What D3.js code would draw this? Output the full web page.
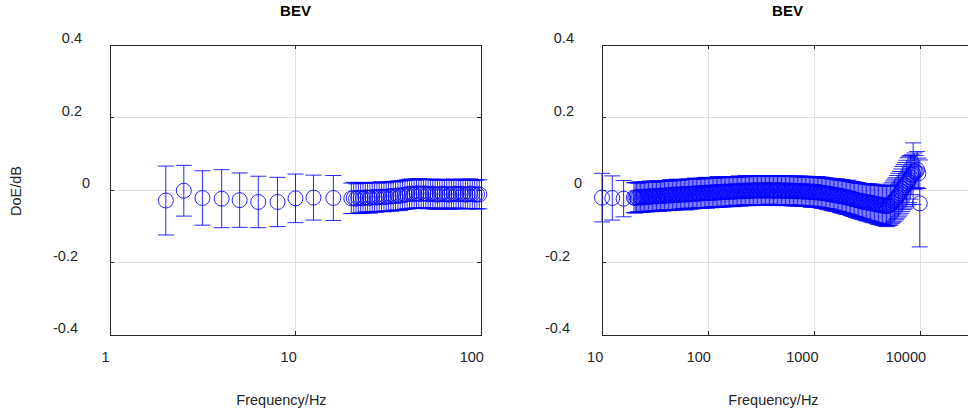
<!DOCTYPE html>
<html>
<head>
<meta charset="utf-8">
<script src="https://cdn.jsdelivr.net/npm/d3@7"></script>
<style>
  body { margin: 0; background: #fff; }
  text { font-family: "Liberation Sans", Arial, Helvetica, sans-serif; }
</style>
</head>
<body>
<svg id="chart" width="968" height="416"></svg>
<script>
// ---- data: frequency (Hz), mean DoE (dB), half-width of error bar (dB) ----
const leftFreqs = [
  2, 2.5, 3.15, 4, 5, 6.3, 8, 10, 12.5, 16,
  20, 20.59, 21.19, 21.81, 22.45, 23.11, 23.78, 24.48, 25.2, 25.94, 26.7, 27.48,
  28.28, 29.11, 29.97, 30.84, 31.75, 32.68, 33.64, 34.62, 35.64, 36.68, 37.76, 38.86,
  40, 41.17, 42.38, 43.62, 44.9, 46.21, 47.57, 48.96, 50.4, 51.87, 53.39, 54.96,
  56.57, 58.23, 59.93, 61.69, 63.5, 65.36, 67.27, 69.24, 71.27, 73.36, 75.51, 77.72,
  80, 82.34, 84.76, 87.24, 89.8, 92.43, 95.14, 97.92
];
const leftDoE = [
  -0.029, -0.002, -0.022, -0.024, -0.028, -0.033, -0.033, -0.023, -0.021, -0.022,
  -0.023, -0.022, -0.024, -0.021, -0.022, -0.023, -0.020, -0.021, -0.022, -0.019, -0.020, -0.021,
  -0.019, -0.018, -0.020, -0.019, -0.017, -0.018, -0.016, -0.017, -0.015, -0.016, -0.014, -0.013,
  -0.012, -0.011, -0.010, -0.012, -0.009, -0.010, -0.011, -0.009, -0.010, -0.012, -0.011, -0.010,
  -0.012, -0.013, -0.011, -0.010, -0.012, -0.011, -0.013, -0.012, -0.010, -0.011, -0.012, -0.010,
  -0.011, -0.013, -0.012, -0.010, -0.011, -0.013, -0.012, -0.012
];
const leftErr = [
  0.095, 0.070, 0.075, 0.080, 0.075, 0.071, 0.068, 0.067, 0.062, 0.062,
  0.042, 0.043, 0.041, 0.042, 0.042, 0.041, 0.040, 0.041, 0.042, 0.040, 0.041, 0.040,
  0.040, 0.041, 0.040, 0.039, 0.040, 0.041, 0.040, 0.039, 0.040, 0.041, 0.040, 0.040,
  0.040, 0.041, 0.040, 0.039, 0.040, 0.041, 0.040, 0.039, 0.040, 0.040, 0.039, 0.040,
  0.041, 0.040, 0.039, 0.040, 0.040, 0.039, 0.040, 0.041, 0.040, 0.039, 0.040, 0.040,
  0.040, 0.039, 0.040, 0.041, 0.040, 0.039, 0.040, 0.040
];

const rightFreqs = [
  10, 12.5, 16,
  20, 20.59, 21.19, 21.81, 22.45, 23.11, 23.78, 24.48, 25.2, 25.94, 26.7, 27.48,
  28.28, 29.11, 29.97, 30.84, 31.75, 32.68, 33.64, 34.62, 35.64, 36.68, 37.76, 38.86,
  40, 41.17, 42.38, 43.62, 44.9, 46.21, 47.57, 48.96, 50.4, 51.87, 53.39, 54.96,
  56.57, 58.23, 59.93, 61.69, 63.5, 65.36, 67.27, 69.24, 71.27, 73.36, 75.51, 77.72,
  80, 82.34, 84.76, 87.24, 89.8, 92.43, 95.14, 97.92, 100.79, 103.75, 106.79, 109.92,
  113.14, 116.45, 119.86, 123.38, 126.99, 130.71, 134.54, 138.49, 142.54, 146.72, 151.02, 155.44,
  160, 164.69, 169.51, 174.48, 179.59, 184.86, 190.27, 195.85, 201.59, 207.49, 213.57, 219.83,
  226.27, 232.9, 239.73, 246.75, 253.98, 261.43, 269.09, 276.97, 285.09, 293.44, 302.04, 310.89,
  320, 329.38, 339.03, 348.96, 359.19, 369.71, 380.55, 391.7, 403.17, 414.99, 427.15, 439.66,
  452.55, 465.81, 479.46, 493.51, 507.97, 522.85, 538.17, 553.94, 570.18, 586.88, 604.08, 621.78,
  640, 658.75, 678.05, 697.93, 718.37, 739.42, 761.09, 783.4, 806.35, 829.98, 854.3, 879.33,
  905.09, 931.62, 958.92, 987.01, 1015.9, 1045.7, 1076.3, 1107.9, 1140.4, 1173.8, 1208.2, 1243.6,
  1280, 1317.5, 1356.1, 1395.9, 1436.7, 1478.8, 1522.2, 1566.8, 1612.7, 1660, 1708.6, 1758.7,
  1810.2, 1863.2, 1917.8, 1974, 2031.9, 2091.4, 2152.7, 2215.8, 2280.7, 2347.5, 2416.3, 2487.1,
  2560, 2635, 2712.2, 2791.7, 2873.5, 2957.7, 3044.4, 3133.6, 3225.4, 3319.9, 3417.2, 3517.3,
  3620.4, 3726.5, 3835.7, 3948, 4063.7, 4182.8, 4305.4, 4431.5, 4561.4, 4695, 4832.6, 4974.2,
  5120, 5270, 5424.4, 5583.4, 5747, 5915.4, 6088.7, 6267.1, 6450.8, 6639.8, 6834.4, 7034.6,
  7240.8, 7453, 7671.3, 7896.1, 8127.4, 8365.6, 8610.7, 8863, 9122.7, 9390, 9665.2, 9948.4
];
const rightDoE = [
  -0.021, -0.022, -0.024,
  -0.021, -0.022, -0.020, -0.021, -0.019, -0.020, -0.021, -0.019, -0.018, -0.020, -0.019, -0.018,
  -0.017, -0.019, -0.018, -0.017, -0.016, -0.018, -0.017, -0.016, -0.015, -0.016, -0.017, -0.015,
  -0.015, -0.014, -0.016, -0.014, -0.013, -0.015, -0.014, -0.013, -0.012, -0.014, -0.013, -0.012,
  -0.013, -0.011, -0.012, -0.013, -0.011, -0.010, -0.012, -0.011, -0.010, -0.011, -0.009, -0.010,
  -0.010, -0.009, -0.010, -0.008, -0.009, -0.008, -0.007, -0.009, -0.008, -0.007, -0.008, -0.006,
  -0.007, -0.008, -0.006, -0.005, -0.007, -0.006, -0.005, -0.006, -0.004, -0.005, -0.006, -0.004,
  -0.005, -0.004, -0.003, -0.005, -0.004, -0.003, -0.004, -0.002, -0.003, -0.004, -0.002, -0.003,
  -0.001, -0.003, -0.002, -0.001, -0.003, -0.002, -0.001, -0.002, 0.000, -0.002, -0.001, -0.002,
  -0.001, -0.002, 0.000, -0.001, -0.002, -0.001, 0.000, -0.002, -0.001, -0.003, -0.001, -0.002,
  0.000, -0.001, -0.002, -0.001, -0.003, -0.002, -0.001, -0.002, -0.003, -0.001, -0.002, -0.003,
  -0.002, -0.003, -0.002, -0.004, -0.003, -0.002, -0.004, -0.003, -0.005, -0.004, -0.003, -0.005,
  -0.004, -0.006, -0.005, -0.004, -0.006, -0.007, -0.005, -0.006, -0.008, -0.007, -0.008, -0.009,
  -0.009, -0.010, -0.011, -0.010, -0.012, -0.013, -0.012, -0.014, -0.015, -0.014, -0.016, -0.017,
  -0.018, -0.017, -0.019, -0.020, -0.021, -0.020, -0.022, -0.023, -0.024, -0.025, -0.026, -0.027,
  -0.028, -0.029, -0.030, -0.031, -0.032, -0.031, -0.033, -0.034, -0.035, -0.034, -0.036, -0.037,
  -0.038, -0.037, -0.039, -0.040, -0.041, -0.040, -0.042, -0.043, -0.042, -0.044, -0.045, -0.044,
  -0.043, -0.040, -0.036, -0.032, -0.028, -0.024, -0.019, -0.014, -0.009, -0.003, 0.003, 0.008,
  0.013, 0.018, 0.024, 0.029, 0.035, 0.042, 0.045, 0.052, 0.050, 0.056, 0.046, -0.037
];
const rightErr = [
  0.067, 0.061, 0.050,
  0.041, 0.042, 0.041, 0.040, 0.041, 0.042, 0.041, 0.040, 0.041, 0.041, 0.040, 0.041,
  0.042, 0.041, 0.040, 0.041, 0.041, 0.040, 0.041, 0.042, 0.041, 0.040, 0.041, 0.041,
  0.041, 0.040, 0.041, 0.042, 0.041, 0.040, 0.041, 0.041, 0.042, 0.041, 0.040, 0.041,
  0.041, 0.040, 0.041, 0.042, 0.041, 0.040, 0.041, 0.041, 0.040, 0.041, 0.042, 0.041,
  0.041, 0.040, 0.041, 0.041, 0.040, 0.041, 0.042, 0.041, 0.040, 0.041, 0.041, 0.040,
  0.041, 0.040, 0.041, 0.042, 0.041, 0.040, 0.041, 0.041, 0.040, 0.041, 0.040, 0.041,
  0.040, 0.041, 0.040, 0.041, 0.040, 0.039, 0.040, 0.041, 0.040, 0.040, 0.039, 0.040,
  0.041, 0.040, 0.039, 0.040, 0.040, 0.041, 0.040, 0.039, 0.040, 0.040, 0.041, 0.040,
  0.040, 0.039, 0.040, 0.041, 0.040, 0.040, 0.039, 0.040, 0.041, 0.040, 0.039, 0.040,
  0.040, 0.041, 0.040, 0.039, 0.040, 0.040, 0.041, 0.040, 0.040, 0.039, 0.040, 0.041,
  0.040, 0.041, 0.040, 0.040, 0.041, 0.040, 0.041, 0.041, 0.040, 0.041, 0.041, 0.040,
  0.041, 0.042, 0.041, 0.041, 0.042, 0.041, 0.042, 0.042, 0.041, 0.042, 0.043, 0.042,
  0.042, 0.043, 0.043, 0.042, 0.043, 0.044, 0.043, 0.044, 0.044, 0.045, 0.044, 0.045,
  0.045, 0.046, 0.045, 0.046, 0.046, 0.047, 0.046, 0.047, 0.047, 0.048, 0.047, 0.048,
  0.048, 0.049, 0.048, 0.049, 0.050, 0.049, 0.050, 0.051, 0.050, 0.051, 0.052, 0.051,
  0.052, 0.053, 0.052, 0.053, 0.054, 0.053, 0.054, 0.055, 0.054, 0.055, 0.056, 0.055,
  0.055, 0.056, 0.056, 0.057, 0.058, 0.058, 0.059, 0.060, 0.060, 0.061, 0.062, 0.062,
  0.063, 0.064, 0.065, 0.064, 0.060, 0.055, 0.085, 0.050, 0.045, 0.050, 0.042, 0.120
];

// axis ticks and their labels
const yTicks = [-0.4, -0.2, 0, 0.2, 0.4];
const yTickLabels = ["-0.4", "-0.2", "0", "0.2", "0.4"];
const leftXTicks = [1, 10, 100];
const leftXTickLabels = ["1", "10", "100"];
const rightXTicks = [10, 100, 1000, 10000];
const rightXTickLabels = ["10", "100", "1000", "10000"];

const titleText = "BEV";
const xLabelText = "Frequency/Hz";
const yLabelText = "DoE/dB";

// ---- drawing ----
const svg = d3.select("#chart");
svg.append("rect").attr("width", 968).attr("height", 416).attr("fill", "#fff");

const axisColor = "#262626";
const gridColor = "#dfdfdf";
const markColor = "#0000ff";
const fontSize = 14.5;
const plotTop = 45, plotBottom = 335;
const y = d3.scaleLinear().domain([-0.4, 0.4]).range([plotBottom, plotTop]);

function drawPanel(p) {
  const x = d3.scaleLog().domain(p.domain).range([p.left, p.right]);
  const g = svg.append("g");

  // grid
  g.selectAll(".vgrid").data(p.xTicks.filter(t => x(t) > p.left + 1 && x(t) < p.right - 1))
    .enter().append("line")
    .attr("x1", d => x(d)).attr("x2", d => x(d))
    .attr("y1", plotTop).attr("y2", plotBottom)
    .attr("stroke", gridColor).attr("stroke-width", 1).attr("shape-rendering", "crispEdges");
  g.selectAll(".hgrid").data(yTicks.filter(t => t > -0.4 && t < 0.4))
    .enter().append("line")
    .attr("x1", p.left).attr("x2", p.right)
    .attr("y1", d => y(d)).attr("y2", d => y(d))
    .attr("stroke", gridColor).attr("stroke-width", 1).attr("shape-rendering", "crispEdges");

  // box
  g.append("rect")
    .attr("x", p.left).attr("y", plotTop)
    .attr("width", p.right - p.left).attr("height", plotBottom - plotTop)
    .attr("fill", "none").attr("stroke", axisColor).attr("stroke-width", 1)
    .attr("shape-rendering", "crispEdges");

  // inward tick marks on all four sides
  const tl = 4;
  p.xTicks.forEach(t => {
    const xx = x(t);
    g.append("line").attr("x1", xx).attr("x2", xx).attr("y1", plotBottom).attr("y2", plotBottom - tl)
      .attr("stroke", axisColor).attr("shape-rendering", "crispEdges");
    g.append("line").attr("x1", xx).attr("x2", xx).attr("y1", plotTop).attr("y2", plotTop + tl)
      .attr("stroke", axisColor).attr("shape-rendering", "crispEdges");
  });
  yTicks.forEach(t => {
    const yy = y(t);
    g.append("line").attr("x1", p.left).attr("x2", p.left + tl).attr("y1", yy).attr("y2", yy)
      .attr("stroke", axisColor).attr("shape-rendering", "crispEdges");
    g.append("line").attr("x1", p.right).attr("x2", p.right - tl).attr("y1", yy).attr("y2", yy)
      .attr("stroke", axisColor).attr("shape-rendering", "crispEdges");
  });

  // y tick labels
  yTicks.forEach((t, i) => {
    const lab = yTickLabels[i];
    g.append("text")
      .attr("x", p.left - 16 - 4 * lab.length)
      .attr("y", y(t) - 2)
      .attr("text-anchor", "end")
      .attr("font-size", fontSize)
      .attr("fill", axisColor)
      .text(lab);
  });

  // x tick labels
  p.xTicks.forEach((t, i) => {
    const txt = g.append("text")
      .attr("y", 362)
      .attr("text-anchor", "middle")
      .attr("font-size", fontSize)
      .attr("fill", axisColor)
      .text(p.xTickLabels[i]);
    const w = txt.node().getComputedTextLength();
    txt.attr("x", x(t) - (2 + 0.3 * w));
  });

  // title and axis label
  g.append("text")
    .attr("x", (p.left + p.right) / 2)
    .attr("y", 16)
    .attr("text-anchor", "middle")
    .attr("font-size", 15)
    .attr("font-weight", "bold")
    .attr("fill", "#000")
    .text(titleText);
  g.append("text")
    .attr("x", (p.left + p.right) / 2 - 14)
    .attr("y", 405)
    .attr("text-anchor", "middle")
    .attr("font-size", fontSize)
    .attr("fill", axisColor)
    .text(xLabelText);

  // error bars with open circle markers
  const pts = p.freqs.map((f, i) => ({ f, m: p.doe[i], e: p.err[i] }));
  const cap = 8;
  const marks = g.append("g")
    .attr("stroke", markColor).attr("stroke-width", 0.85).attr("fill", "none");
  const bars = marks.selectAll(".bar").data(pts).enter().append("g");
  bars.append("line")
    .attr("x1", d => x(d.f)).attr("x2", d => x(d.f))
    .attr("y1", d => y(d.m + d.e)).attr("y2", d => y(d.m - d.e));
  bars.append("line")
    .attr("x1", d => x(d.f) - cap).attr("x2", d => x(d.f) + cap)
    .attr("y1", d => y(d.m + d.e)).attr("y2", d => y(d.m + d.e));
  bars.append("line")
    .attr("x1", d => x(d.f) - cap).attr("x2", d => x(d.f) + cap)
    .attr("y1", d => y(d.m - d.e)).attr("y2", d => y(d.m - d.e));
  marks.selectAll(".dot").data(pts).enter().append("circle")
    .attr("cx", d => x(d.f)).attr("cy", d => y(d.m)).attr("r", 7.5);
}

drawPanel({
  left: 110, right: 481, domain: [1, 100],
  xTicks: leftXTicks, xTickLabels: leftXTickLabels,
  freqs: leftFreqs, doe: leftDoE, err: leftErr
});
drawPanel({
  left: 602, right: 973, domain: [10, Math.pow(10, 4.5)],
  xTicks: rightXTicks, xTickLabels: rightXTickLabels,
  freqs: rightFreqs, doe: rightDoE, err: rightErr
});

// shared y axis label
svg.append("text")
  .attr("transform", "translate(21,191) rotate(-90)")
  .attr("text-anchor", "middle")
  .attr("font-size", fontSize)
  .attr("fill", axisColor)
  .text(yLabelText);
</script>
</body>
</html>
